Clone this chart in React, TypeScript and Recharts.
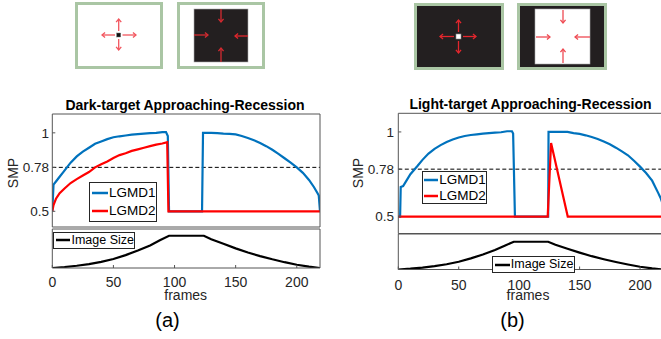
import React from 'react';
import { LineChart, Line, XAxis, YAxis, ReferenceLine, Legend } from 'recharts';

const FONT = '"Liberation Sans", Arial, Helvetica, sans-serif';
const AXIS = '#555555';
const TXT = '#262626';
const BLUE = '#0072BD';
const RED = '#FF0000';

const frameTicks = [0, 50, 100, 150, 200];
const smpTicks = [0.5, 0.78, 1];
const threshold = 0.78;

// (a) dark target
const darkL1Frames = [0, 1, 3, 6, 9, 12, 15, 20, 25, 30, 35, 40, 45, 50, 55, 60, 65, 70, 75, 80, 85, 90, 93, 94.5, 95.5, 122.5, 123.3, 130, 135, 140, 145, 150, 155, 160, 165, 170, 175, 180, 185, 190, 195, 200, 205, 210, 214, 217, 218, 219];
const darkL1Values = [0.5, 0.67, 0.69, 0.72, 0.75, 0.78, 0.81, 0.85, 0.88, 0.905, 0.93, 0.945, 0.96, 0.972, 0.978, 0.983, 0.988, 0.992, 0.995, 0.998, 1.0, 1.005, 1.005, 0.98, 0.5, 0.5, 1.0, 1.0, 0.998, 0.995, 0.993, 0.99, 0.98, 0.967, 0.953, 0.935, 0.915, 0.892, 0.866, 0.838, 0.81, 0.78, 0.745, 0.7, 0.655, 0.615, 0.6, 0.5];
const darkL2Frames = [0, 1, 3, 6, 10, 15, 20, 25, 30, 35, 40, 45, 50, 55, 60, 65, 70, 75, 80, 85, 90, 94, 95, 219];
const darkL2Values = [0.5, 0.54, 0.58, 0.615, 0.645, 0.68, 0.705, 0.728, 0.75, 0.78, 0.8, 0.818, 0.84, 0.858, 0.87, 0.885, 0.895, 0.905, 0.915, 0.925, 0.932, 0.94, 0.5, 0.5];

// (b) light target
const lightL1Frames = [0, 1.5, 2, 4, 7, 10, 13, 16, 20, 25, 30, 35, 40, 45, 50, 55, 60, 65, 70, 75, 80, 85, 90, 94, 95, 96.5, 124, 124.3, 130, 140, 145, 150, 155, 160, 165, 170, 175, 180, 185, 190, 195, 200, 205, 210, 215, 217, 219];
const lightL1Values = [0.5, 0.5, 0.675, 0.68, 0.715, 0.75, 0.775, 0.8, 0.835, 0.872, 0.9, 0.922, 0.94, 0.955, 0.967, 0.976, 0.982, 0.986, 0.99, 0.993, 0.996, 0.998, 1.004, 1.004, 0.99, 0.5, 0.5, 1.0, 1.0, 1.0, 0.993, 0.988, 0.98, 0.97, 0.958, 0.943, 0.927, 0.907, 0.885, 0.862, 0.83, 0.795, 0.757, 0.712, 0.64, 0.61, 0.57];
const lightL2Frames = [0, 123.6, 126.4, 140.2, 219];
const lightL2Values = [0.5, 0.5, 0.935, 0.5, 0.5];

// image size of the stimulus (same for both)
const sizeFrames = [0, 10, 20, 30, 40, 50, 60, 70, 80, 88, 95.5, 124, 130, 140, 150, 160, 170, 180, 190, 200, 210, 219];
const sizeValues = [0.0, 0.03, 0.07, 0.12, 0.19, 0.28, 0.4, 0.54, 0.7, 0.86, 1.0, 1.0, 0.89, 0.75, 0.61, 0.48, 0.37, 0.27, 0.18, 0.1, 0.04, 0.0];

const zip = (fs: number[], vs: number[]) => fs.map((f, i) => ({ f, v: vs[i] }));

const darkL1 = zip(darkL1Frames, darkL1Values);
const darkL2 = zip(darkL2Frames, darkL2Values);
const lightL1 = zip(lightL1Frames, lightL1Values);
const lightL2 = zip(lightL2Frames, lightL2Values);
const imageSize = zip(sizeFrames, sizeValues);

function BoxLegend(props: any) {
  const { payload, rowH, lineW, fontSize, padTop, padLeft } = props;
  return (
    <div style={{ border: '1px solid #262626', background: '#fff', boxSizing: 'border-box', width: '100%', height: '100%', paddingTop: padTop, paddingLeft: padLeft }}>
      {(payload || []).map((p: any) => (
        <div key={p.value} style={{ display: 'flex', alignItems: 'center', height: rowH }}>
          <svg width={lineW} height={4} style={{ display: 'block' }}>
            <line x1={0} y1={2} x2={lineW} y2={2} stroke={p.color} strokeWidth={2.5} />
          </svg>
          <span style={{ fontSize, lineHeight: 1, color: '#000', marginLeft: 1, whiteSpace: 'nowrap' }}>{p.value}</span>
        </div>
      ))}
    </div>
  );
}

function Arrow({ x1, y1, x2, y2, color }: any) {
  const a = Math.atan2(y2 - y1, x2 - x1);
  const h = 4;
  const p1 = `${x2 - h * Math.cos(a - 0.7)},${y2 - h * Math.sin(a - 0.7)}`;
  const p2 = `${x2 - h * Math.cos(a + 0.7)},${y2 - h * Math.sin(a + 0.7)}`;
  return (
    <g stroke={color} strokeWidth={1.3} fill="none">
      <line x1={x1} y1={y1} x2={x2} y2={y2} />
      <polyline points={`${p1} ${x2},${y2} ${p2}`} />
    </g>
  );
}

function MainPanel({ l1, l2, yMax, width, height, margin, legendBox, legendRow, tickMargin }: any) {
  return (
    <LineChart width={width} height={height} margin={margin}>
      <XAxis type="number" dataKey="f" domain={[0, 219]} ticks={frameTicks} interval={0} allowDataOverflow tick={false} tickSize={-3} height={5} stroke={AXIS} />
      <XAxis xAxisId="top" orientation="top" type="number" dataKey="f" domain={[0, 219]} ticks={frameTicks} interval={0} allowDataOverflow tick={false} tickSize={-3} height={5} stroke={AXIS} />
      <YAxis type="number" domain={[0.4, yMax]} ticks={smpTicks} interval={0} allowDataOverflow width={40} tickSize={-3} tickMargin={tickMargin} stroke={AXIS} tick={{ fontSize: 13.5, fill: TXT }} />
      <YAxis yAxisId="right" orientation="right" type="number" domain={[0.4, yMax]} ticks={smpTicks} interval={0} allowDataOverflow width={5} tickSize={-3} tick={false} stroke={AXIS} />
      <ReferenceLine y={threshold} stroke="#000" strokeWidth={1} strokeDasharray="4 2.5" />
      <Legend layout="vertical" align="center" verticalAlign="middle" wrapperStyle={legendBox}
        content={(p: any) => <BoxLegend {...p} {...legendRow} />} />
      <Line data={l1} dataKey="v" name="LGMD1" type="linear" stroke={BLUE} strokeWidth={2.2} dot={false} activeDot={false} isAnimationActive={false} />
      <Line data={l2} dataKey="v" name="LGMD2" type="linear" stroke={RED} strokeWidth={2.2} dot={false} activeDot={false} isAnimationActive={false} />
    </LineChart>
  );
}

function SizePanel({ yMax, width, height, margin, legendBox, legendRow, tickMargin }: any) {
  return (
    <LineChart width={width} height={height} margin={margin}>
      <XAxis type="number" dataKey="f" domain={[0, 219]} ticks={frameTicks} interval={0} allowDataOverflow tickSize={-3} tickMargin={tickMargin} height={30} stroke={AXIS} tick={{ fontSize: 14, fill: TXT }} />
      <XAxis xAxisId="top" orientation="top" type="number" dataKey="f" domain={[0, 219]} ticks={frameTicks} interval={0} allowDataOverflow tick={false} tickSize={-3} height={5} stroke={AXIS} />
      <YAxis type="number" domain={[0, yMax]} allowDataOverflow width={40} tick={false} tickLine={false} stroke={AXIS} />
      <YAxis yAxisId="right" orientation="right" type="number" domain={[0, yMax]} allowDataOverflow width={5} tick={false} tickLine={false} stroke={AXIS} />
      <Legend layout="vertical" align="center" verticalAlign="middle" wrapperStyle={legendBox}
        content={(p: any) => <BoxLegend {...p} {...legendRow} />} />
      <Line data={imageSize} dataKey="v" name="Image Size" type="linear" stroke="#000" strokeWidth={2.2} dot={false} activeDot={false} isAnimationActive={false} />
    </LineChart>
  );
}

export default function App() {
  const green = '#aac6a4';
  return (
    <div style={{ position: 'absolute', left: 0, top: 0, width: 661, height: 339, overflow: 'hidden', background: '#fff', fontFamily: FONT }}>
      <svg width={661} height={339} style={{ position: 'absolute', left: 0, top: 0 }}>
        {/* stimulus icons (a) */}
        <rect x={76.5} y={3.5} width={85} height={64} fill="#fff" stroke={green} strokeWidth={3} />
        <rect x={116.7} y={33} width={4} height={4} fill="#111" stroke="#777" strokeWidth={0.5} />
        <Arrow x1={118.7} y1={31} x2={118.7} y2={19} color="#f2555e" />
        <Arrow x1={118.7} y1={39} x2={118.7} y2={50} color="#f2555e" />
        <Arrow x1={115} y1={35} x2={102} y2={35} color="#f2555e" />
        <Arrow x1={122.5} y1={35} x2={136} y2={35} color="#f2555e" />
        <rect x={178.5} y={3.5} width={85} height={64} fill="#fff" stroke={green} strokeWidth={3} />
        <rect x={194} y={9} width={54} height={53} fill="#231f20" stroke="#aaa" strokeWidth={0.6} />
        <Arrow x1={221} y1={9} x2={221} y2={22} color="#d42a30" />
        <Arrow x1={221} y1={62} x2={221} y2={48} color="#d42a30" />
        <Arrow x1={194} y1={35} x2={208} y2={35} color="#d42a30" />
        <Arrow x1={248} y1={36} x2={235} y2={36} color="#e3262d" />
        {/* stimulus icons (b) */}
        <rect x={415.5} y={4.5} width={87} height={64} fill="#231f20" stroke={green} strokeWidth={3} />
        <rect x={456} y={34} width={5} height={5} fill="#fff" stroke="#888" strokeWidth={0.6} />
        <Arrow x1={458.5} y1={32} x2={458.5} y2={20} color="#e3262d" />
        <Arrow x1={458.5} y1={41} x2={458.5} y2={53} color="#e3262d" />
        <Arrow x1={454} y1={36.5} x2={440} y2={36.5} color="#e3262d" />
        <Arrow x1={463} y1={36.5} x2={476} y2={36.5} color="#e3262d" />
        <rect x={518.5} y={4.5} width={87} height={64} fill="#231f20" stroke={green} strokeWidth={3} />
        <rect x={535} y={9} width={55} height={55} fill="#fff" stroke="#aaa" strokeWidth={0.6} />
        <Arrow x1={563} y1={10} x2={563} y2={23} color="#ef4a52" />
        <Arrow x1={563} y1={63} x2={563} y2={49} color="#ef4a52" />
        <Arrow x1={536} y1={37} x2={550} y2={37} color="#ef4a52" />
        <Arrow x1={590} y1={37} x2={575} y2={37} color="#ef4a52" />
        {/* titles and labels */}
        <text x={185} y={109.5} textAnchor="middle" fontSize={14} fontWeight="bold" fill="#000">Dark-target Approaching-Recession</text>
        <text x={530.5} y={108.5} textAnchor="middle" fontSize={14} fontWeight="bold" fill="#000">Light-target Approaching-Recession</text>
        <text transform="translate(18.3,173) rotate(-90)" textAnchor="middle" fontSize={14} fill={TXT}>SMP</text>
        <text transform="translate(363,173) rotate(-90)" textAnchor="middle" fontSize={14} fill={TXT}>SMP</text>
        <text x={185.7} y={299.5} textAnchor="middle" fontSize={14} fill={TXT}>frames</text>
        <text x={528} y={300} textAnchor="middle" fontSize={14} fill={TXT}>frames</text>
        <text x={167.5} y={327} textAnchor="middle" fontSize={20} fill="#000">(a)</text>
        <text x={512.5} y={327} textAnchor="middle" fontSize={20} fill="#000">(b)</text>
      </svg>

      <div style={{ position: 'absolute', left: 0, top: 100 }}>
        <MainPanel l1={darkL1} l2={darkL2} yMax={1.12} width={335} height={135}
          margin={{ top: 9, right: 10, bottom: 3, left: 12.3 }} tickMargin={6.3}
          legendBox={{ left: 89, top: 82, width: 68, height: 40 }}
          legendRow={{ rowH: 18.3, lineW: 16, fontSize: 13.5, padTop: 0.5, padLeft: 2 }} />
      </div>
      <div style={{ position: 'absolute', left: 0, top: 222 }}>
        <SizePanel yMax={1.21} width={335} height={80}
          margin={{ top: 2, right: 10, bottom: 4, left: 12.3 }} tickMargin={12}
          legendBox={{ left: 53, top: 9.7, width: 82, height: 17.3 }}
          legendRow={{ rowH: 15.3, lineW: 16, fontSize: 12.5, padTop: 0, padLeft: 1.5 }} />
      </div>

      <div style={{ position: 'absolute', left: 345, top: 100 }}>
        <MainPanel l1={lightL1} l2={lightL2} yMax={1.11} width={330} height={140}
          margin={{ top: 8.3, right: 7, bottom: 1.5, left: 13.3 }} tickMargin={7.3}
          legendBox={{ left: 76.7, top: 70.7, width: 65, height: 33.6 }}
          legendRow={{ rowH: 16.3, lineW: 15, fontSize: 13.5, padTop: 0, padLeft: 1 }} />
      </div>
      <div style={{ position: 'absolute', left: 345, top: 227 }}>
        <SizePanel yMax={1.28} width={330} height={80}
          margin={{ top: 2, right: 7, bottom: 7.5, left: 13.3 }} tickMargin={13.2}
          legendBox={{ left: 147.3, top: 29, width: 82.7, height: 17 }}
          legendRow={{ rowH: 15, lineW: 15, fontSize: 12.5, padTop: 0, padLeft: 1.5 }} />
      </div>
    </div>
  );
}
